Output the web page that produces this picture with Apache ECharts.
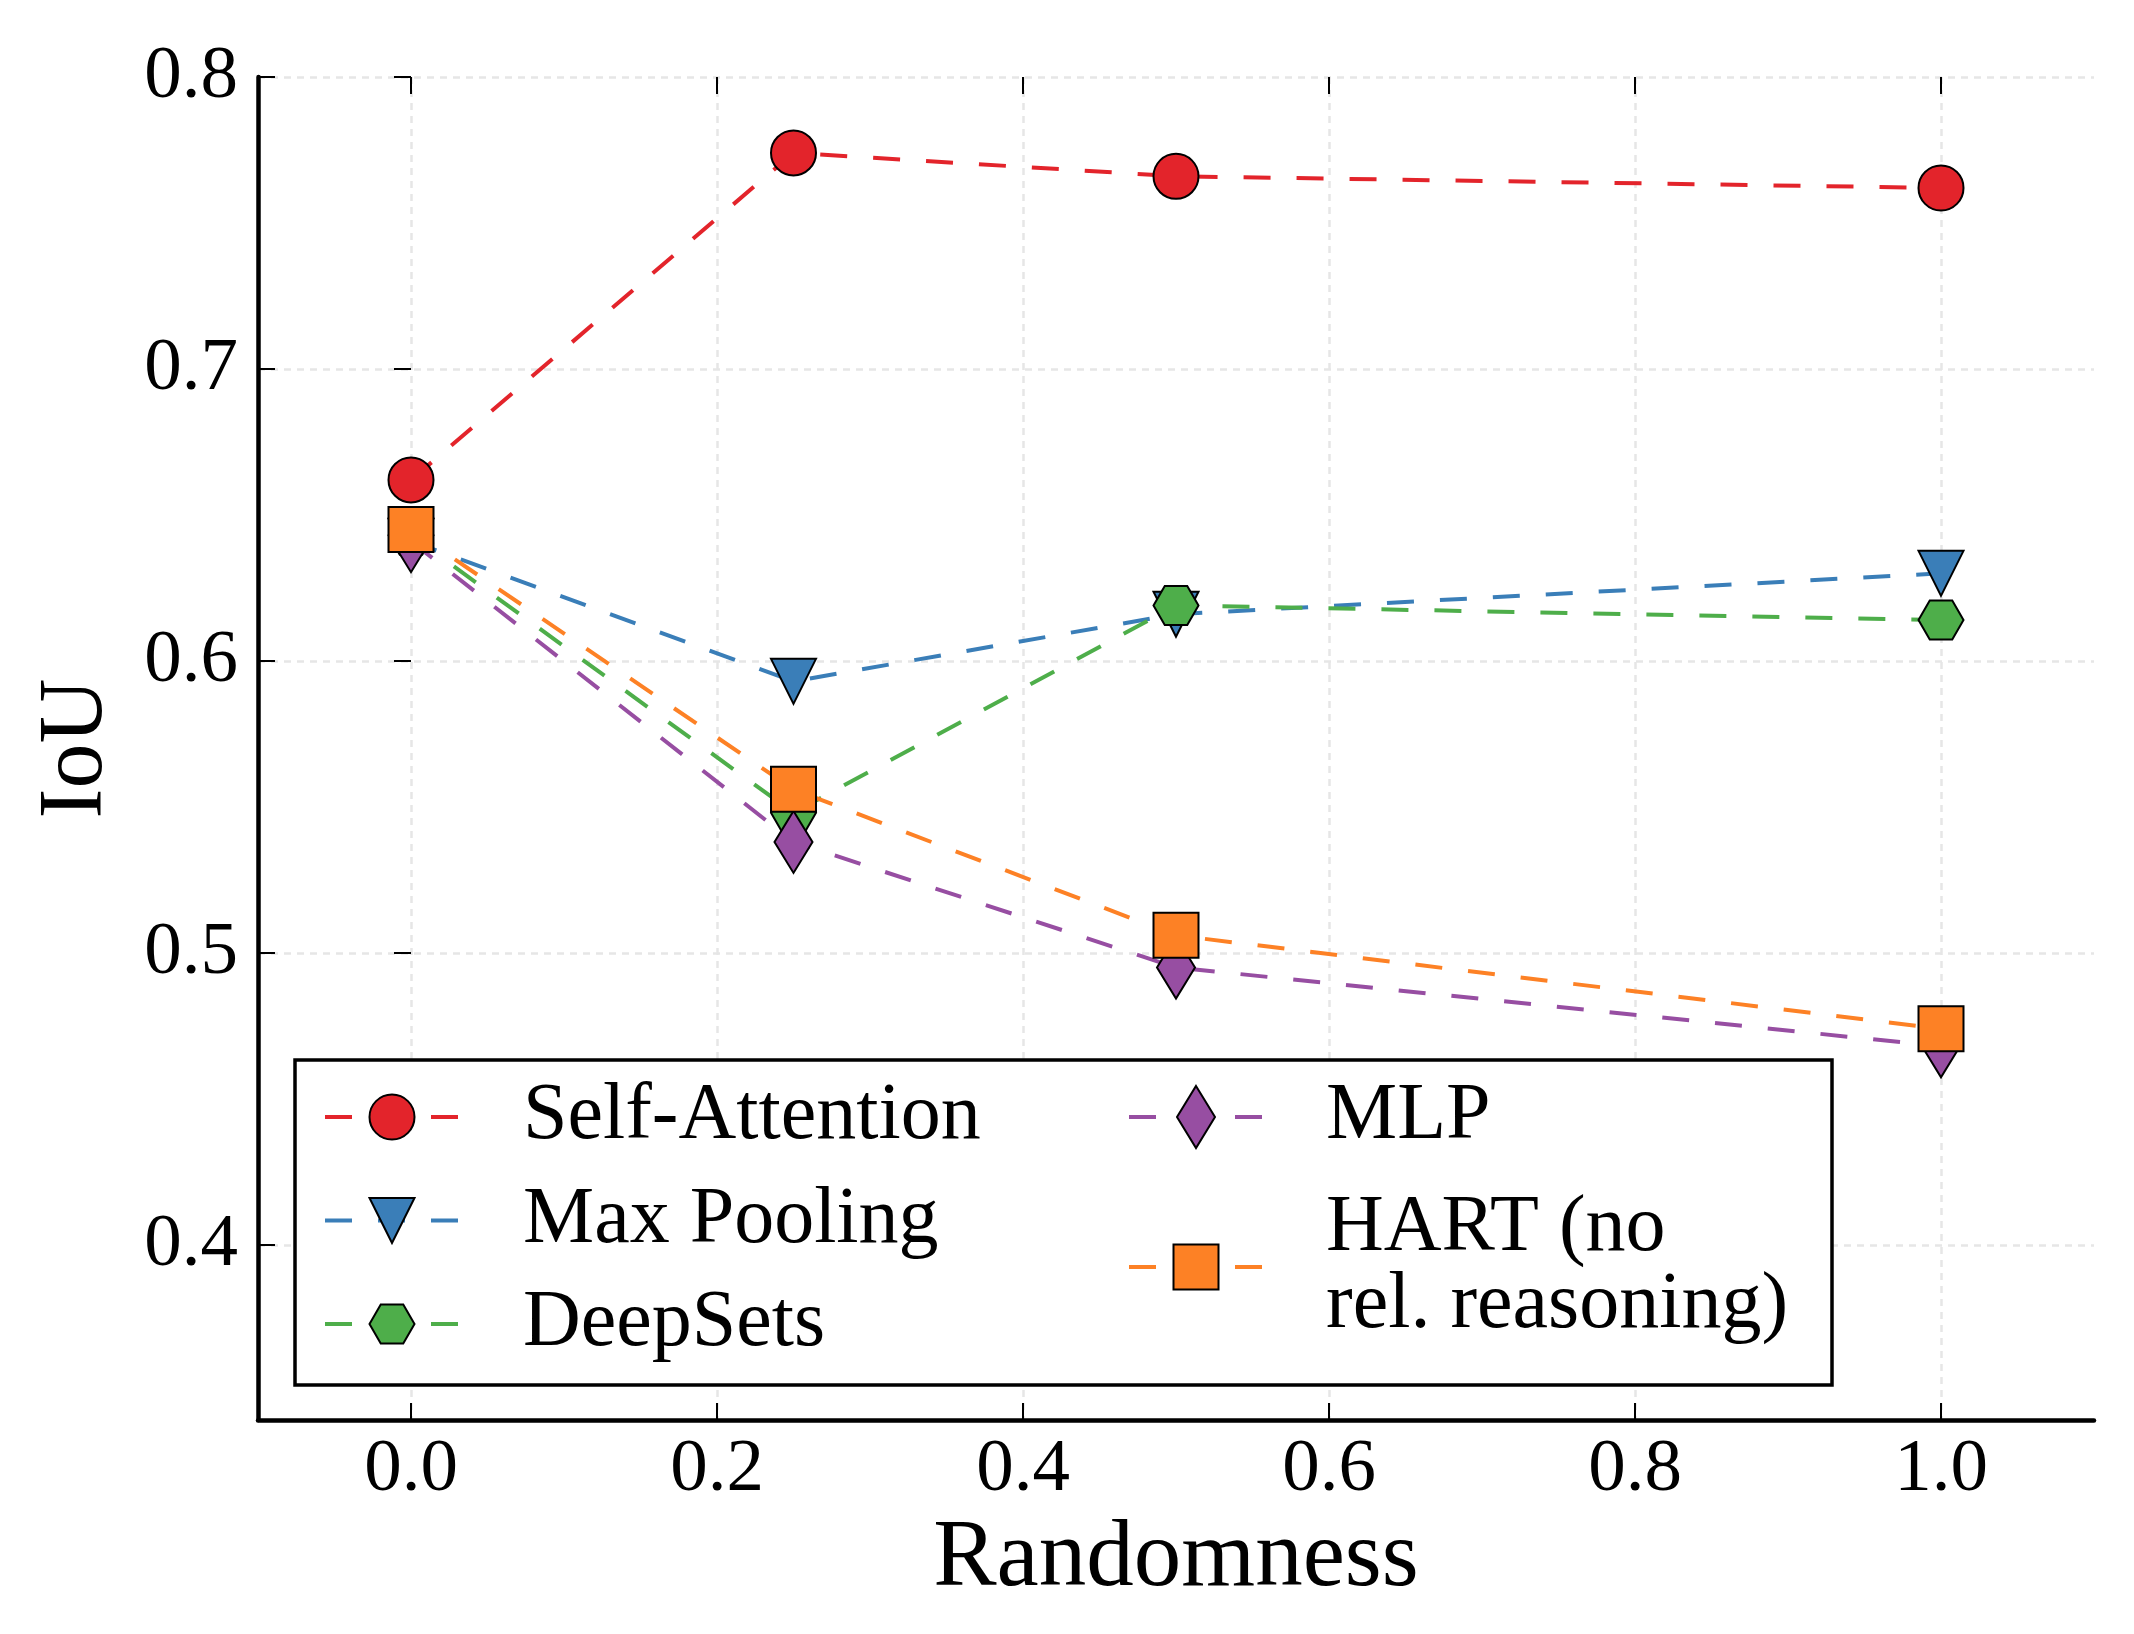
<!DOCTYPE html>
<html>
<head>
<meta charset="utf-8">
<script src="https://cdn.jsdelivr.net/npm/echarts@6/dist/echarts.min.js"></script>
<style>
html,body{margin:0;padding:0;background:#fff;}
#chart{width:2134px;height:1634px;}
</style>
</head>
<body>
<div id="chart"></div>
<script>
// ---- data ----
const randomness = [0, 0.25, 0.5, 1.0];
const selfAttention = [0.662, 0.774, 0.766, 0.762];
const maxPooling = [0.641, 0.593, 0.616, 0.630];
const deepSets = [0.643, 0.548, 0.619, 0.614];
const mlp = [0.641, 0.538, 0.495, 0.468];
const hart = [0.645, 0.556, 0.506, 0.474];
const seriesNames = ['Self-Attention', 'Max Pooling', 'DeepSets', 'MLP', 'HART (no\nrel. reasoning)'];
const xTicks = [0.0, 0.2, 0.4, 0.6, 0.8, 1.0];
const yTicks = [0.4, 0.5, 0.6, 0.7, 0.8];

// ---- styling ----
const FONT = 'Liberation Serif';
const colors = ['#e3242b', '#3a7eb8', '#4eae4a', '#974ea2', '#fd8125'];
const PAD = 'M-31,-31 M31,31 ';
const symbols = [
  'path://' + PAD + 'M22.5,0 A22.5,22.5 0 1 1 -22.5,0 A22.5,22.5 0 1 1 22.5,0 Z',
  'path://' + PAD + 'M-22.5,-22.5 L22.5,-22.5 L0,22.5 Z',
  'path://' + PAD + 'M-22.5,0 L-11.25,-19.5 L11.25,-19.5 L22.5,0 L11.25,19.5 L-11.25,19.5 Z',
  'path://' + PAD + 'M0,-31 L19,0 L0,31 L-19,0 Z',
  'path://' + PAD + 'M-22.5,-22.5 L22.5,-22.5 L22.5,22.5 L-22.5,22.5 Z'
];
const allValues = [selfAttention, maxPooling, deepSets, mlp, hart];

const series = allValues.map((vals, i) => ({
  name: seriesNames[i],
  type: 'line',
  z: 2 + i,
  data: randomness.map((x, j) => [x, vals[j]]),
  symbol: symbols[i],
  symbolSize: 62,
  showAllSymbol: true,
  animation: false,
  lineStyle: { color: colors[i], width: 4, type: [27, 26] },
  itemStyle: { color: colors[i], borderColor: '#000', borderWidth: 2, opacity: 1 },
  emphasis: { disabled: true }
}));

const fmt = v => Number(v).toFixed(1);
const gridSplit = { show: true, lineStyle: { color: '#e6e6e6', width: 2.5, type: [7, 6] } };
const tickStyle = { show: true, inside: true, length: 17, lineStyle: { color: '#000', width: 2 } };

function legendCfg(left, gap, textGap, names) {
  return {
    orient: 'vertical',
    padding: 0,
    left: left,
    top: 1077,
    itemGap: gap,
    itemWidth: 134,
    itemHeight: 77.5,
    selectedMode: false,
    z: 11,
    textStyle: { fontFamily: FONT, fontSize: 80, color: '#000', lineHeight: 77, padding: [0, 0, 0, textGap - 5] },
    lineStyle: { width: 4 },
    itemStyle: { borderColor: '#000', borderWidth: 2 },
    data: names
  };
}

const chart = echarts.init(document.getElementById('chart'), null, { renderer: 'canvas' });
chart.setOption({
  backgroundColor: '#fff',
  animation: false,
  grid: { left: 258, right: 40, top: 77, bottom: 214, containLabel: false },
  xAxis: [
    {
      type: 'value', min: -0.1, max: 1.1, position: 'bottom',
      name: 'Randomness', nameLocation: 'middle', nameGap: 93,
      nameTextStyle: { fontFamily: FONT, fontSize: 95, color: '#000' },
      axisLine: { show: true, onZero: false, lineStyle: { color: '#000', width: 4.5 } },
      axisTick: Object.assign({ customValues: xTicks }, tickStyle),
      axisLabel: { customValues: xTicks, formatter: fmt, fontFamily: FONT, fontSize: 75, color: '#000', margin: 13 },
      splitLine: gridSplit
    },
    {
      type: 'value', min: -0.1, max: 1.1, position: 'top',
      axisLine: { show: false },
      axisTick: Object.assign({ customValues: xTicks }, tickStyle),
      axisLabel: { show: false },
      splitLine: { show: false }
    }
  ],
  yAxis: [
    {
      type: 'value', min: 0.34, max: 0.8, position: 'left',
      name: 'IoU', nameLocation: 'middle', nameGap: 136,
      nameTextStyle: { fontFamily: FONT, fontSize: 90, color: '#000' },
      axisLine: { show: true, onZero: false, lineStyle: { color: '#000', width: 4.5 } },
      axisTick: Object.assign({ customValues: yTicks }, tickStyle),
      axisLabel: { customValues: yTicks, formatter: fmt, fontFamily: FONT, fontSize: 75, color: '#000', margin: 20 },
      splitLine: gridSplit
    },
    {
      type: 'value', min: 0.34, max: 0.8, position: 'right',
      axisLine: { show: false },
      axisTick: Object.assign({ customValues: yTicks }, tickStyle),
      axisLabel: { show: false },
      splitLine: { show: false }
    }
  ],
  legend: [
    legendCfg(323, 23.5, 64, seriesNames.slice(0, 3)),
    legendCfg(1127, 31.5, 63, seriesNames.slice(3))
  ],
  graphic: {
    elements: [{
      type: 'rect', z: 10, silent: true,
      shape: { x: 295, y: 1060, width: 1537, height: 325 },
      style: { fill: '#fff', stroke: '#000', lineWidth: 3.5 }
    }]
  },
  series: series
});
</script>
</body>
</html>
